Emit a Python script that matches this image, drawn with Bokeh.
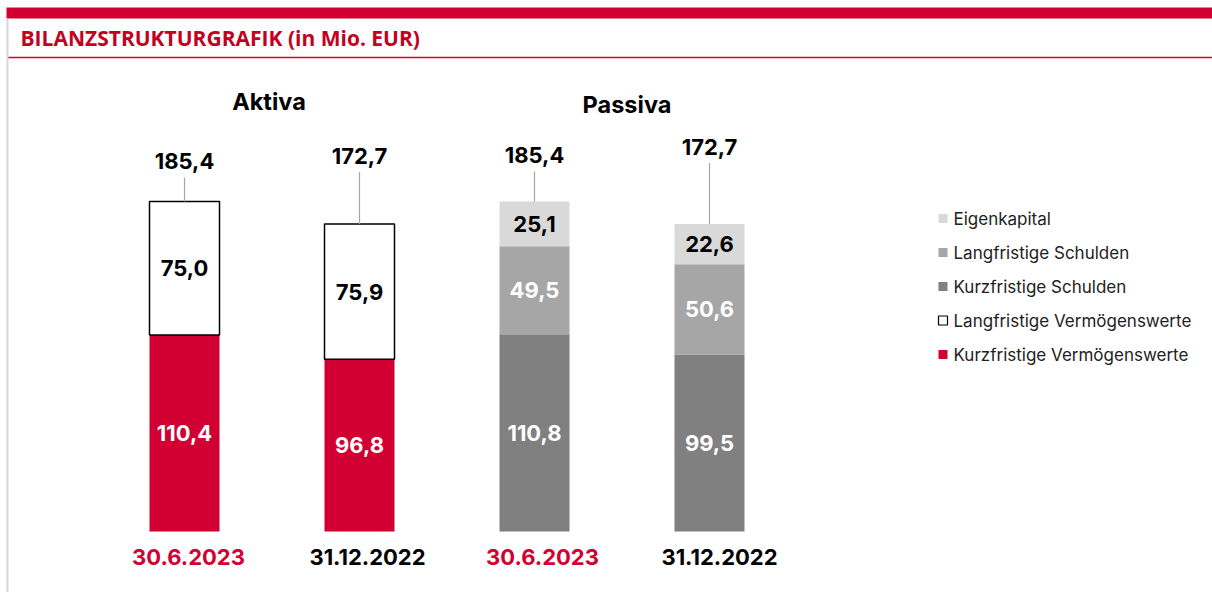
from bokeh.plotting import figure
from bokeh.models import Range1d, ColumnDataSource
from bokeh.core.properties import value
from bokeh.embed import file_html
from bokeh.resources import INLINE
import numpy as np

# ---------------- data ----------------
dates = ["30.6.2023", "31.12.2022"]
sides = ["Aktiva", "Passiva"]
kurz_vermoegen = [110.4, 96.8]      # Kurzfristige Vermögenswerte
lang_vermoegen = [75.0, 75.9]       # Langfristige Vermögenswerte
kurz_schulden = [110.8, 99.5]       # Kurzfristige Schulden
lang_schulden = [49.5, 50.6]        # Langfristige Schulden
eigenkapital = [25.1, 22.6]         # Eigenkapital
totals = [185.4, 172.7]
legend_names = ["Eigenkapital", "Langfristige Schulden", "Kurzfristige Schulden",
                "Langfristige Vermögenswerte", "Kurzfristige Vermögenswerte"]

# ---------------- style / layout ----------------
RED = "#d20032"
TITLE_RED = "#c4001f"
C_EK = "#d9d9d9"
C_LS = "#a6a6a6"
C_KS = "#808080"
W, H = 1212, 592
PXU = 1.78          # pixels per Mio. EUR
BASE_PX = 531       # baseline of bars (pixels from top)


def py(px):
    return (BASE_PX - px) / PXU


NUM_FONT = value("Inter")
TXT_FONT = value("Inter")
NUM_SIZE = "22px"

p = figure(width=W, height=H, output_backend="svg", toolbar_location=None,
           x_range=Range1d(0, W), y_range=Range1d(py(H), py(0)),
           min_border=0, min_border_left=0, min_border_right=0,
           min_border_top=0, min_border_bottom=0)
p.axis.visible = False
p.grid.visible = False
p.outline_line_color = None
p.background_fill_color = "white"
p.border_fill_color = "white"

# ---------------- header decoration ----------------
p.quad(left=[6], right=[W], top=[py(7)], bottom=[py(18)], fill_color=RED, line_color=None)
p.segment(x0=[7], y0=[py(57)], x1=[W], y1=[py(57)], line_color=RED, line_width=1.5)
p.segment(x0=[7], y0=[py(18)], x1=[7], y1=[py(H)], line_color="#d6d6d6", line_width=2)
p.text(x=[20], y=[py(37)], text=["BILANZSTRUKTURGRAFIK (in Mio. EUR)"],
       text_font=value("Open Sans"), text_font_style="bold", text_font_size="21px",
       text_color=TITLE_RED, text_baseline="middle", text_align="left")

# ---------------- bars ----------------
BAR_W = 70
x_akt = [184, 359]
x_pas = [534, 709]

src_a = ColumnDataSource(dict(x=x_akt, kv=kurz_vermoegen, lv=lang_vermoegen))
p.vbar_stack(["kv", "lv"], x="x", width=BAR_W, source=src_a,
             fill_color=[RED, "white"], line_color=[None, "black"], line_width=1.5)

src_p = ColumnDataSource(dict(x=x_pas, ks=kurz_schulden, ls=lang_schulden, ek=eigenkapital))
p.vbar_stack(["ks", "ls", "ek"], x="x", width=BAR_W, source=src_p,
             fill_color=[C_KS, C_LS, C_EK], line_color=None)

# ---------------- segment labels ----------------
def seg_labels(xs, stacks, colors):
    arr = np.array(stacks)
    cum = np.cumsum(arr, axis=0)
    mids = cum - arr / 2
    for k in range(arr.shape[0]):
        p.text(x=xs, y=list(mids[k]), text=[f"{v:.1f}".replace(".", ",") for v in arr[k]],
               text_font=NUM_FONT, text_font_style="bold", text_font_size=NUM_SIZE,
               text_color=colors[k], text_align="center", text_baseline="middle")


seg_labels(x_akt, [kurz_vermoegen, lang_vermoegen], ["white", "black"])
seg_labels(x_pas, [kurz_schulden, lang_schulden, eigenkapital], ["white", "white", "black"])

# ---------------- totals with leader lines ----------------
all_x = x_akt + x_pas
all_tot = totals + totals
label_gap = [40, 68, 46, 77]       # px between bar top and total label centre
tot_y = [t + g / PXU for t, g in zip(all_tot, label_gap)]
lead_top = [t + (g - 16) / PXU for t, g in zip(all_tot, label_gap)]
p.segment(x0=all_x, y0=all_tot, x1=all_x, y1=lead_top, line_color="#a6a6a6", line_width=1.2)
p.text(x=all_x, y=tot_y, text=[f"{v:.1f}".replace(".", ",") for v in all_tot],
       text_font=NUM_FONT, text_font_style="bold", text_font_size=NUM_SIZE,
       text_color="black", text_align="center", text_baseline="middle")

# ---------------- date labels ----------------
date_colors = [RED, "black"]
date_dx = [4, 8, 8, 10]            # px shift of date labels to the right of bar centre
p.text(x=[x + d for x, d in zip(all_x, date_dx)], y=[py(556)] * 4, text=dates + dates,
       text_font=NUM_FONT, text_font_style="bold", text_font_size=NUM_SIZE,
       text_color=date_colors + date_colors, text_align="center", text_baseline="middle")

# ---------------- side headers ----------------
p.text(x=[sum(x_akt) / 2 - 3, sum(x_pas) / 2 + 5], y=[py(101), py(104)], text=sides,
       text_font=NUM_FONT, text_font_style="bold", text_font_size="23.5px",
       text_color="black", text_align="center", text_baseline="middle")

# ---------------- legend ----------------
legend_colors = [C_EK, C_LS, C_KS, "white", RED]
legend_lines = [None, None, None, "black", None]
leg_y = [py(218 + 34 * i) for i in range(len(legend_names))]
for i in range(len(legend_names)):
    p.rect(x=[942.5], y=[leg_y[i]], width=9, height=9, width_units="screen", height_units="screen",
           fill_color=legend_colors[i], line_color=legend_lines[i], line_width=1.2)
p.text(x=[953] * len(legend_names), y=leg_y, text=legend_names,
       text_font=TXT_FONT, text_font_size="17px", text_color="#222222",
       text_align="left", text_baseline="middle")

open("out.html", "w").write(file_html(p, INLINE))
